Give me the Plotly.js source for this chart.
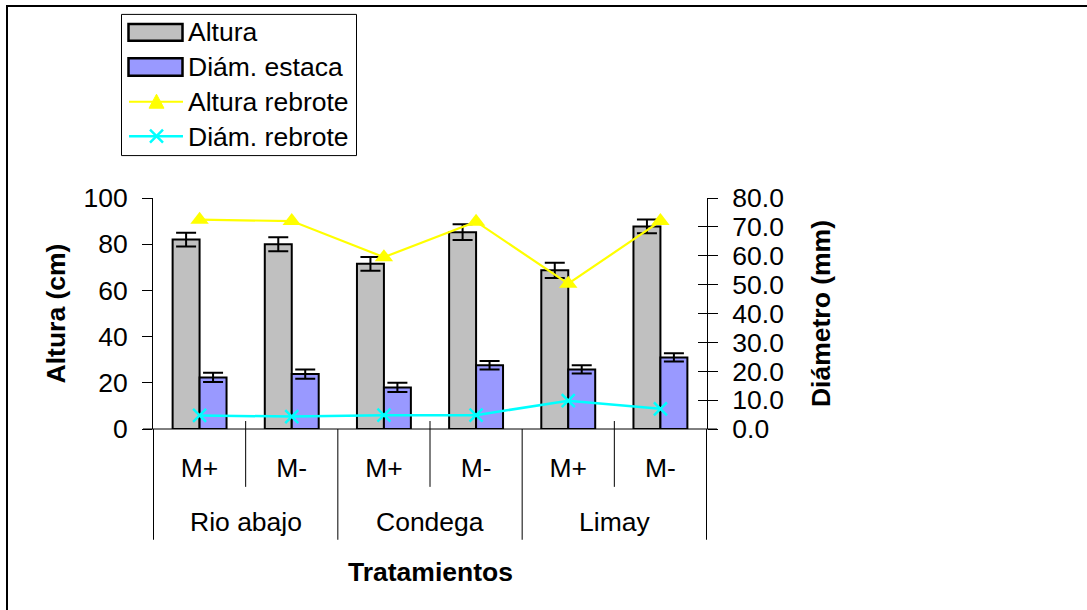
<!DOCTYPE html>
<html>
<head>
<meta charset="utf-8">
<script src="https://cdn.plot.ly/plotly-3.0.1.min.js"></script>
<style>html,body{margin:0;padding:0;background:#fff;}#chart{width:1087px;height:610px;}</style>
</head>
<body>
<div id="chart"></div>
<script>
// ---- data ----
const groups = ['Rio abajo', 'Condega', 'Limay'];
const groupOfBar = ['Rio abajo', 'Rio abajo', 'Condega', 'Condega', 'Limay', 'Limay'];
const treatments = ['M+', 'M-', 'M+', 'M-', 'M+', 'M-'];
const categories = groupOfBar.map((g, i) => g + ' ' + treatments[i]);

const altura = [82, 80, 71.5, 85.2, 68.7, 87.7];
const alturaErr = [3, 3, 3, 3.4, 3.3, 3];
const diamEstaca = [22.3, 23.8, 18, 27.6, 25.8, 31];
const diamEstacaErr = [2, 2, 2, 1.8, 1.8, 1.8];
const alturaRebrote = [72.5, 72, 59.5, 71.8, 50.3, 72];   // right axis scale
const diamRebrote = [4.7, 4.3, 4.8, 4.8, 9.8, 7.0];         // right axis (mm)

const seriesNames = ['Altura', 'Diám. estaca', 'Altura rebrote', 'Diám. rebrote'];

// ---- layout helpers (pixel -> paper) ----
const W = 1087, H = 610;
const PL = 153, PR = 707, PT = 197.5, PB = 429;
const X = px => (px - PL) / (PR - PL);
const Y = py => (PB - py) / (PB - PT);
const FONT = 'Arial, "Liberation Sans", sans-serif';
const FS = 26.5;

const traces = [
  {type: 'bar', name: seriesNames[0], x: categories, y: altura,
   marker: {color: '#C0C0C0', line: {color: '#000', width: 2}},
   error_y: {type: 'data', array: alturaErr, color: '#000', thickness: 2, width: 10}},
  {type: 'bar', name: seriesNames[1], x: categories, y: diamEstaca,
   marker: {color: '#9999FF', line: {color: '#000', width: 2}},
   error_y: {type: 'data', array: diamEstacaErr, color: '#000', thickness: 2, width: 10}},
  {type: 'scatter', mode: 'lines+markers', name: seriesNames[2], x: categories, y: alturaRebrote, yaxis: 'y2',
   line: {color: '#FFFF00', width: 2.2}, marker: {symbol: 'triangle-up', size: 16, color: '#FFFF00'}},
  {type: 'scatter', mode: 'lines+markers', name: seriesNames[3], x: categories, y: diamRebrote, yaxis: 'y2',
   line: {color: '#00FFFF', width: 2.5}, marker: {symbol: 'x-thin', size: 13, color: '#00FFFF', line: {color: '#00FFFF', width: 2.5}}}
];

const shapes = [];
const annotations = [];
// outer frame
shapes.push({type: 'rect', xref: 'paper', yref: 'paper', x0: X(7), x1: X(1095), y0: Y(5), y1: Y(620),
  line: {color: '#000', width: 2}, layer: 'below'});
// x axis line (extends past plot like original)
shapes.push({type: 'line', xref: 'paper', yref: 'paper', x0: X(143), x1: X(717), y0: 0, y1: 0, line: {color: '#000', width: 1}});
// category separators
const n = categories.length;
for (let i = 0; i <= n; i++) {
  const xv = i - 0.5;
  const isGroup = (i % 2 === 0);
  shapes.push({type: 'line', xref: 'x', yref: 'paper', x0: xv, x1: xv,
    y0: isGroup ? Y(429) : Y(421), y1: isGroup ? Y(540) : Y(487), line: {color: '#000', width: 1}});
}
// group labels
groups.forEach((g, k) => {
  annotations.push({xref: 'x', yref: 'paper', x: 2 * k + 0.5, y: Y(522), text: g, showarrow: false,
    xanchor: 'center', yanchor: 'middle', font: {family: FONT, size: FS, color: '#000'}});
});
// x title
annotations.push({xref: 'paper', yref: 'paper', x: 0.5, y: Y(572), text: '<b>Tratamientos</b>', showarrow: false,
  xanchor: 'center', yanchor: 'middle', font: {family: FONT, size: FS, color: '#000'}});

// custom legend
shapes.push({type: 'rect', xref: 'paper', yref: 'paper', x0: X(121.5), x1: X(356.5), y0: Y(13.5), y1: Y(155),
  line: {color: '#000', width: 1}, fillcolor: '#fff'});
shapes.push({type: 'rect', xref: 'paper', yref: 'paper', x0: X(128.5), x1: X(182.5), y0: Y(23), y1: Y(40),
  line: {color: '#000', width: 2.5}, fillcolor: '#C0C0C0'});
shapes.push({type: 'rect', xref: 'paper', yref: 'paper', x0: X(128.5), x1: X(182.5), y0: Y(57.5), y1: Y(75),
  line: {color: '#000', width: 2.5}, fillcolor: '#9999FF'});
shapes.push({type: 'line', xref: 'paper', yref: 'paper', x0: X(129), x1: X(183), y0: Y(101), y1: Y(101),
  line: {color: '#FFFF00', width: 2}});
shapes.push({type: 'path', xref: 'paper', yref: 'paper',
  path: `M${X(156.5)},${Y(93.5)} L${X(164)},${Y(107.5)} L${X(149)},${Y(107.5)} Z`,
  fillcolor: '#FFFF00', line: {color: '#FFFF00', width: 1}});
shapes.push({type: 'line', xref: 'paper', yref: 'paper', x0: X(129), x1: X(183), y0: Y(135.5), y1: Y(135.5),
  line: {color: '#00FFFF', width: 2.5}});
shapes.push({type: 'path', xref: 'paper', yref: 'paper',
  path: `M${X(150)},${Y(129)} L${X(163)},${Y(142)} M${X(150)},${Y(142)} L${X(163)},${Y(129)}`,
  line: {color: '#00FFFF', width: 2.5}});
const legY = [31, 66, 101, 136];
seriesNames.forEach((s, i) => {
  annotations.push({xref: 'paper', yref: 'paper', x: X(186), y: Y(legY[i]), text: s, showarrow: false,
    xanchor: 'left', yanchor: 'middle', font: {family: FONT, size: FS, color: '#000'}});
});

const layout = {
  width: W, height: H,
  margin: {l: PL, r: W - PR, t: PT, b: H - PB, pad: 0},
  paper_bgcolor: '#fff', plot_bgcolor: '#fff',
  font: {family: FONT, size: FS, color: '#000'},
  showlegend: false,
  barmode: 'group', bargap: 0.415, bargroupgap: 0,
  xaxis: {type: 'category', categoryorder: 'array', categoryarray: categories,
    tickvals: categories, ticktext: treatments, ticks: '', showline: false, showgrid: false, zeroline: false,
    ticklabelstandoff: 20, tickfont: {family: FONT, size: FS, color: '#000'}},
  yaxis: {range: [0, 100], dtick: 20, ticks: 'outside', ticklen: 10, tickcolor: '#000', tickwidth: 1,
    showline: true, linecolor: '#000', linewidth: 1, showgrid: false, zeroline: false,
    ticklabelstandoff: 9, tickfont: {family: FONT, size: FS, color: '#000'},
    title: {text: 'Altura (cm)', standoff: 10, font: {family: FONT, size: FS, color: '#000', weight: 'bold'}}},
  yaxis2: {range: [0, 80], dtick: 10, tickformat: '.1f', overlaying: 'y', side: 'right', anchor: 'x',
    ticks: 'outside', ticklen: 10, tickcolor: '#000', tickwidth: 1,
    showline: true, linecolor: '#000', linewidth: 1, showgrid: false, zeroline: false,
    ticklabelstandoff: 9, tickfont: {family: FONT, size: FS, color: '#000'},
    title: {text: 'Diámetro (mm)', standoff: 28, font: {family: FONT, size: FS, color: '#000', weight: 'bold'}}},
  yaxis3: {range: [0, 80], dtick: 10, overlaying: 'y', side: 'right', anchor: 'x',
    ticks: 'inside', ticklen: 9, tickcolor: '#000', tickwidth: 1, showticklabels: false,
    showline: false, showgrid: false, zeroline: false},
  shapes: shapes,
  annotations: annotations
};

// invisible helper trace so the inner tick marks of the right axis are drawn
traces.push({type: 'scatter', x: [categories[0]], y: [0], yaxis: 'y3', mode: 'markers',
  marker: {opacity: 0}, hoverinfo: 'skip', showlegend: false});

Plotly.newPlot('chart', traces, layout, {displayModeBar: false, staticPlot: true});
</script>
</body>
</html>
